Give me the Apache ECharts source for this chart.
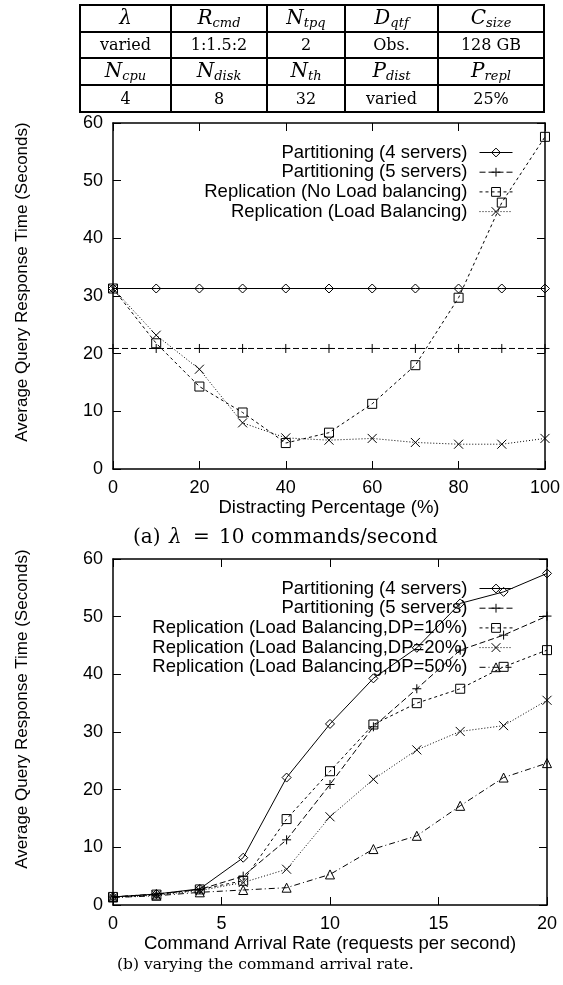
<!DOCTYPE html>
<html><head><meta charset="utf-8">
<script src="https://cdn.jsdelivr.net/npm/echarts@6/dist/echarts.min.js"></script>
<style>html,body{margin:0;padding:0;background:#fff}#c{width:563px;height:985px}</style>
</head><body><div id="c"></div>
<script>
// ---- data: chart (a) ----
const distractX = [0,10,20,30,40,50,60,70,80,90,100];
const aPart4  = [31.3,31.3,31.3,31.3,31.3,31.3,31.3,31.3,31.3,31.3,31.3];
const aPart5  = [20.9,20.9,20.9,20.9,20.9,20.9,20.9,20.9,20.9,20.9,20.9];
const aReplNoLB = [31.3,21.8,14.3,9.8,4.5,6.3,11.3,18.0,29.7,46.2,57.6];
const aReplLB   = [31.3,23.2,17.3,8.0,5.4,5.0,5.3,4.6,4.3,4.3,5.3];
// ---- data: chart (b) ----
const rateX = [0,2,4,6,8,10,12,14,16,18,20];
const bPart4 = [1.4,1.9,2.8,8.2,22.1,31.4,39.3,44.6,52.3,54.3,57.5];
const bPart5 = [1.4,1.9,2.7,5.0,11.3,20.9,30.9,37.5,44.2,46.8,50.1];
const bDP10  = [1.4,1.8,2.7,4.2,14.9,23.2,31.3,35.0,37.5,41.3,44.2];
const bDP20  = [1.3,1.7,2.5,3.9,6.2,15.3,21.8,26.9,30.1,31.1,35.5];
const bDP50  = [1.3,1.6,2.2,2.6,3.0,5.3,9.7,12.0,17.2,22.1,24.6];
// ---- names ----
const aNames = ['Partitioning (4 servers)','Partitioning (5 servers)','Replication (No Load balancing)','Replication (Load Balancing)'];
const bNames = ['Partitioning (4 servers)','Partitioning (5 servers)','Replication (Load Balancing,DP=10%)','Replication (Load Balancing,DP=20%)','Replication (Load Balancing,DP=50%)'];
// ---- ticks ----
const aXTicks = {min:0,max:100,interval:20};
const bXTicks = {min:0,max:20,interval:5};
const yTicks = {min:0,max:60,interval:10};
// ---- table ----
const tableRow1 = [['λ',''],['R','cmd'],['N','tpq'],['D','qtf'],['C','size']];
const tableRow2 = ['varied','1:1.5:2','2','Obs.','128 GB'];
const tableRow3 = [['N','cpu'],['N','disk'],['N','th'],['P','dist'],['P','repl']];
const tableRow4 = ['4','8','32','varied','25%'];
const captionAParts = ['(a)','λ','=','10','commands/second'];
const captionB = '(b) varying the command arrival rate.';
const yTitle = 'Average Query Response Time (Seconds)';

const SANS = 'Liberation Sans';
const SERIF = 'DejaVu Serif';
const pts = (xs, ys) => xs.map((x,i)=>[x, ys[i]]);
const PLUS = 'path://M5,0L5,10M0,5L10,5';
const CROSS = 'path://M0,0L10,10M0,10L10,0';

function mk(name, xs, ys, sym, dash, gi){
  return {
    type:'line', name, data: pts(xs, ys),
    xAxisIndex: gi*2, yAxisIndex: gi*2,
    symbol: sym, symbolSize: 9, showAllSymbol:true,
    lineStyle:{color:'#000', width:1, type: dash},
    itemStyle:{color:'rgba(0,0,0,0)', borderColor:'#000', borderWidth:1},
    emphasis:{disabled:true}, animation:false, clip:false
  };
}

const series = [
  mk(aNames[0], distractX, aPart4, 'diamond', 'solid', 0),
  mk(aNames[1], distractX, aPart5, PLUS, [6,3], 0),
  mk(aNames[2], distractX, aReplNoLB, 'rect', [3,3], 0),
  mk(aNames[3], distractX, aReplLB, CROSS, [1,2], 0),
  mk(bNames[0], rateX, bPart4, 'diamond', 'solid', 1),
  mk(bNames[1], rateX, bPart5, PLUS, [6,3], 1),
  mk(bNames[2], rateX, bDP10, 'rect', [3,3], 1),
  mk(bNames[3], rateX, bDP20, CROSS, [1,2], 1),
  mk(bNames[4], rateX, bDP50, 'triangle', [6,3,1,3], 1),
];

const axLine = {show:true, onZero:false, lineStyle:{color:'#000', width:1.5}};
const axTick = {show:true, inside:true, length:8, lineStyle:{color:'#000', width:1}};
const lbl = {color:'#000', fontSize:18, fontFamily:SANS};
function xAx(gi, t, name, pos){
  const main = pos==='bottom';
  return Object.assign({type:'value', gridIndex:gi, position:pos, axisLine:axLine, axisTick:axTick,
    splitLine:{show:false}, axisLabel: main ? Object.assign({margin:10}, lbl) : {show:false},
    name: main ? name : '', nameLocation:'middle', nameGap:29,
    nameTextStyle:{color:'#000', fontSize:18.5, fontFamily:SANS}}, t);
}
function yAx(gi, pos){
  const main = pos==='left';
  return Object.assign({type:'value', gridIndex:gi, position:pos, axisLine:axLine, axisTick:axTick,
    splitLine:{show:false}, axisLabel: main ? Object.assign({margin:10}, lbl) : {show:false}}, yTicks);
}

function legend(names, top){
  return {data:names, orient:'vertical', align:'right', right:45, top,
    itemWidth:33, itemHeight:11, itemGap:0.7,
    itemStyle:{color:'rgba(0,0,0,0)', borderColor:'#000', borderWidth:1},
    lineStyle:{width:1, color:'#000'},
    textStyle:{color:'#000', fontSize:18.5, fontFamily:SANS, lineHeight:18, padding:[0,7,0,0]},
    selectedMode:false, inactiveColor:'#000'};
}

// table graphics
const colX = [80,171,267,345,438,544];
const rowY = [5,32,58,85,112];
const graphics = [];
colX.forEach(x=>graphics.push({type:'line', shape:{x1:x,y1:rowY[0],x2:x,y2:rowY[4]}, style:{stroke:'#000', lineWidth:2}}));
rowY.forEach(y=>graphics.push({type:'line', shape:{x1:colX[0]-1,y1:y,x2:colX[5]+1,y2:y}, style:{stroke:'#000', lineWidth:2}}));
const rich = {
  m:{fontSize:20, fontStyle:'italic', fontFamily:SERIF, color:'#000'},
  s:{fontSize:13, fontStyle:'italic', fontFamily:SERIF, color:'#000', padding:[10,0,0,0]}
};
function mathRow(row, ri){
  row.forEach((c,ci)=>{
    const t = c[1] ? `{m|${c[0]}}{s|${c[1]}}` : `{m|${c[0]}}`;
    graphics.push({type:'text', x:(colX[ci]+colX[ci+1])/2, y:(rowY[ri]+rowY[ri+1])/2,
      style:{text:t, rich, align:'center', verticalAlign:'middle'}});
  });
}
function plainRow(row, ri){
  row.forEach((c,ci)=>{
    graphics.push({type:'text', x:(colX[ci]+colX[ci+1])/2, y:(rowY[ri]+rowY[ri+1])/2+1,
      style:{text:c, fontSize:16, fontFamily:SERIF, fill:'#000', align:'center', verticalAlign:'middle'}});
  });
}
mathRow(tableRow1,0); plainRow(tableRow2,1); mathRow(tableRow3,2); plainRow(tableRow4,3);
// caption (a): LaTeX-spaced pieces
const capAX = [133,169,193,219,251];
captionAParts.forEach((p,i)=>graphics.push({type:'text', x:capAX[i], y:538,
  style:{text:p, fontSize:20, fontFamily:SERIF, fontStyle: p==='λ' ? 'italic' : 'normal', fill:'#000', align:'left', verticalAlign:'middle'}}));
graphics.push({type:'text', x:117, y:965, style:{text:captionB, fontSize:15.5, fontFamily:SERIF, fill:'#000', align:'left', verticalAlign:'middle'}});
// y titles
[282, 709].forEach(cy=>graphics.push({type:'text', x:22, y:cy, rotation:Math.PI/2,
  style:{text:yTitle, fontSize:17, fontFamily:SANS, fill:'#000', align:'center', verticalAlign:'middle'}}));

const option = {
  backgroundColor:'#fff', animation:false,
  grid:[{left:113, top:123, width:434, height:346},{left:113, top:559, width:434, height:346}],
  xAxis:[xAx(0,aXTicks,'Distracting Percentage (%)','bottom'), xAx(0,aXTicks,'','top'),
         xAx(1,bXTicks,'Command Arrival Rate (requests per second)','bottom'), xAx(1,bXTicks,'','top')],
  yAxis:[yAx(0,'left'), yAx(0,'right'), yAx(1,'left'), yAx(1,'right')],
  legend:[legend(aNames,138), legend(bNames,574)],
  series, graphic: graphics
};
const chart = echarts.init(document.getElementById('c'), null, {renderer:'canvas'});
chart.setOption(option);
</script></body></html>
